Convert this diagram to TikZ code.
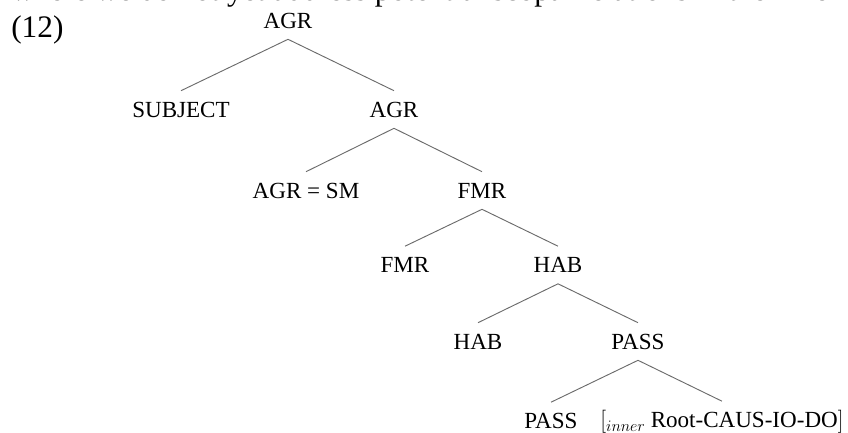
\documentclass[tikz,border=0pt]{standalone}
\usepackage{fontspec}
\setmainfont{Liberation Serif}
\begin{document}
\begin{tikzpicture}[x=0.75pt,y=-0.75pt,
  lab/.style={font=\fontsize{17.3}{20}\selectfont, text height=11.4pt,
    text depth=0pt, inner xsep=0pt, inner ysep=8.2pt},
  prose/.style={font=\fontsize{23.5}{28}\selectfont, anchor=base west, inner sep=0pt},
  branch/.style={draw=black!58, line width=0.7pt}]
\clip (0,0) rectangle (848,432);

% running text above the example
\node[prose] (prev) at (11,1) {where we do not yet address potential scopal relations in the inner};
\node[prose] (num) at (11,37.5) {(12)};

% tree nodes
\node[lab] (agr)    at (288,20.5)  {AGR};
\node[lab] (subj)   at (181,109.5) {SUBJECT};
\node[lab] (agrb)   at (394,109.5) {AGR};
\node[lab] (agrsm)  at (306,190.5) {AGR = SM};
\node[lab] (fmr)    at (482,190.5) {FMR};
\node[lab] (fmrh)   at (405,265)   {FMR};
\node[lab] (hab)    at (558,265)   {HAB};
\node[lab] (habh)   at (478,341.5) {HAB};
\node[lab] (pass)   at (638,341.5) {PASS};
\node[lab] (passh)  at (551,421)   {PASS};
\node[lab] (inner)  at (722,420)
  {$\big[$\raisebox{-3pt}{\fontsize{12}{12}\selectfont$inner$} Root-CAUS-IO-DO$\big]$};

% branches
\foreach \p/\c in {agr/subj, agr/agrb, agrb/agrsm, agrb/fmr, fmr/fmrh, fmr/hab,
                   hab/habh, hab/pass, pass/passh, pass/inner}
  \draw[branch] (\p.south) -- (\c.north);
\end{tikzpicture}
\end{document}
